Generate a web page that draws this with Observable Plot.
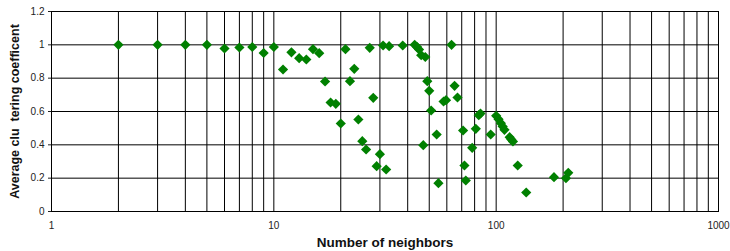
<!DOCTYPE html>
<html><head><meta charset="utf-8">
<script src="https://cdn.jsdelivr.net/npm/d3@7"></script>
<script src="https://cdn.jsdelivr.net/npm/@observablehq/plot@0.6"></script>
<style>
body{margin:0;background:#fff;}
svg text{white-space:pre;}
</style>
</head><body><div id="chart"></div>
<script>
const neighbors = [2,3,4,5,6,7,8,9,10,11,12,13,14,15,16,17,18,19,20,21,22,23,24,25,26,27,28,29,30,31,32,33,38,43,44,45,46,48,49,47,50,51,54,55,58,59.5,63,65,67,71,72,73,78,81,83.5,85,94.5,100,102.5,105,107,109,115,117,119,125,136.5,182,206,211];
const clustering = [1.0,1.0,1.0,1.0,0.978,0.984,0.987,0.951,0.987,0.852,0.955,0.92,0.912,0.974,0.95,0.78,0.654,0.646,0.528,0.974,0.782,0.856,0.552,0.422,0.372,0.982,0.682,0.272,0.344,0.996,0.252,0.992,0.996,1.0,0.988,0.972,0.938,0.927,0.782,0.398,0.724,0.606,0.462,0.17,0.66,0.668,1.0,0.754,0.684,0.486,0.276,0.186,0.382,0.496,0.578,0.588,0.462,0.574,0.554,0.53,0.51,0.49,0.446,0.432,0.42,0.276,0.114,0.206,0.2,0.232];
const xTicks = [1,10,100,1000];
const yTicks = [0,0.2,0.4,0.6,0.8,1,1.2];
const data = neighbors.map((n,i)=>({n, c: clustering[i]}));

const chart = Plot.plot({
  width: 730, height: 251,
  marginLeft: 51, marginRight: 12, marginTop: 11, marginBottom: 40,
  style: {fontFamily: "Liberation Sans, Arial, sans-serif", fontSize: "10px", color: "#222", background: "#fff"},
  x: {type: "log", domain: [1,1000]},
  y: {domain: [0,1.2]},
  marks: [
    Plot.gridX({stroke: "black", strokeOpacity: 1, strokeWidth: 1}),
    Plot.gridY(yTicks, {stroke: "black", strokeOpacity: 1, strokeWidth: 1}),
    Plot.frame({stroke: "black"}),
    Plot.axisX(xTicks, {tickSize: 0, tickPadding: 10, tickFormat: d => String(d),
      label: "Number of neighbors", labelAnchor: "center", labelArrow: "none", labelOffset: 35,
      fontSize: 10}),
    Plot.axisY(yTicks, {tickSize: 3, tickPadding: 4, tickFormat: d => String(d),
      label: "Average clu  tering coefficent", labelAnchor: "center", labelArrow: "none", labelOffset: 41,
      fontSize: 10}),
    Plot.dot(data, {x: "n", y: "c", symbol: "diamond2", r: 4.6, fill: "#008000", stroke: "none"})
  ]
});
document.getElementById("chart").appendChild(chart);
// bold axis titles
chart.querySelectorAll("g[aria-label='x-axis label'] text").forEach(t => {
  t.style.fontWeight = "bold"; t.style.fontSize = "13.5px"; t.style.fill = "#111";
});
chart.querySelectorAll("g[aria-label='y-axis label'] text").forEach(t => {
  t.style.fontWeight = "bold"; t.style.fontSize = "12.5px"; t.style.fill = "#111";
});
</script>
</body></html>
